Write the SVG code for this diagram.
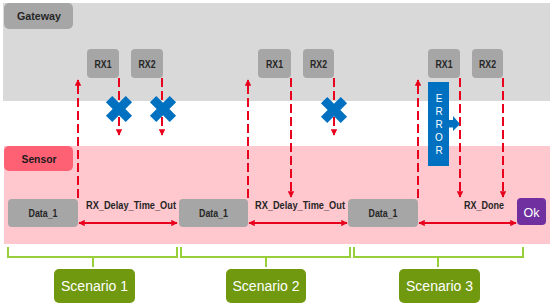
<svg xmlns="http://www.w3.org/2000/svg" width="550" height="307" viewBox="0 0 550 307">
<style>
.lbl{font-family:"Liberation Sans",Arial,sans-serif;font-weight:bold;fill:#262626;text-anchor:middle}
.gbox{fill:#a6a6a6}
.dash{stroke:#e8001c;stroke-width:2;stroke-dasharray:9,4;fill:none}
.solid{stroke:#e8001c;stroke-width:2;fill:none}
.brk{stroke:#96cf3a;stroke-width:2;fill:none}
.scn{fill:#70990f}
.scnt{font-family:"Liberation Sans",Arial,sans-serif;font-size:14px;fill:#ffffff;text-anchor:middle}
.bx{fill:#0070c0}
</style>
<defs>
<marker id="ah" viewBox="0 0 10 10" refX="9" refY="5" markerWidth="3.2" markerHeight="3.2" orient="auto-start-reverse" markerUnits="strokeWidth">
<path d="M0,0 L10,5 L0,10 z" fill="#e8001c"/>
</marker>
<path id="xshape" d="M-4.5,-14 H4.5 V-4.5 H14 V4.5 H4.5 V14 H-4.5 V4.5 H-14 V-4.5 H-4.5 Z" transform="rotate(45)"/>
</defs>

<g id="bands">
<rect x="3" y="3" width="547" height="98" fill="#d9d9d9"/>
<rect x="4" y="146" width="546" height="98" fill="#ffc7ce"/>
</g>

<g id="gateway">
<rect x="4" y="3" width="69" height="26" rx="5" class="gbox"/>
<text x="39" y="20" class="lbl" font-size="11.5" textLength="44" lengthAdjust="spacingAndGlyphs">Gateway</text>
</g>
<g id="sensor">
<rect x="4" y="146" width="69" height="25" rx="5" fill="#ff6174"/>
<text x="39" y="162.5" class="lbl" font-size="11.5" textLength="35" lengthAdjust="spacingAndGlyphs" style="fill:#1a1a1a">Sensor</text>
</g>

<g id="s1-rx1"><rect x="87" y="49" width="32" height="29" rx="4" class="gbox"/><text x="103" y="67.5" class="lbl" font-size="10.5" textLength="17" lengthAdjust="spacingAndGlyphs">RX1</text></g>
<g id="s1-rx2"><rect x="131" y="49" width="32" height="29" rx="4" class="gbox"/><text x="147" y="67.5" class="lbl" font-size="10.5" textLength="17" lengthAdjust="spacingAndGlyphs">RX2</text></g>
<g id="s2-rx1"><rect x="258" y="49" width="33" height="29" rx="4" class="gbox"/><text x="274.5" y="67.5" class="lbl" font-size="10.5" textLength="17" lengthAdjust="spacingAndGlyphs">RX1</text></g>
<g id="s2-rx2"><rect x="303" y="49" width="31" height="29" rx="4" class="gbox"/><text x="318.5" y="67.5" class="lbl" font-size="10.5" textLength="17" lengthAdjust="spacingAndGlyphs">RX2</text></g>
<g id="s3-rx1"><rect x="428" y="49" width="32" height="29" rx="4" class="gbox"/><text x="444" y="67.5" class="lbl" font-size="10.5" textLength="17" lengthAdjust="spacingAndGlyphs">RX1</text></g>
<g id="s3-rx2"><rect x="472" y="49" width="31" height="29" rx="4" class="gbox"/><text x="487.5" y="67.5" class="lbl" font-size="10.5" textLength="17" lengthAdjust="spacingAndGlyphs">RX2</text></g>

<g id="s1-data"><rect x="8" y="199" width="70" height="28" rx="4" class="gbox"/><text x="43" y="217" class="lbl" font-size="10.5" textLength="29" lengthAdjust="spacingAndGlyphs">Data_1</text></g>
<g id="s2-data"><rect x="179" y="199" width="69" height="28" rx="4" class="gbox"/><text x="213.5" y="217" class="lbl" font-size="10.5" textLength="29" lengthAdjust="spacingAndGlyphs">Data_1</text></g>
<g id="s3-data"><rect x="348" y="199" width="70" height="28" rx="4" class="gbox"/><text x="383" y="217" class="lbl" font-size="10.5" textLength="29" lengthAdjust="spacingAndGlyphs">Data_1</text></g>
<g id="ok"><rect x="517" y="198" width="29" height="27" rx="4" fill="#7030a0"/><text x="531.5" y="216.5" font-family="Liberation Sans,Arial,sans-serif" font-size="12.5" fill="#ffffff" text-anchor="middle">Ok</text></g>

<g id="connectors">
<path class="dash" d="M78,198 V80" marker-end="url(#ah)"/>
<path class="dash" d="M248,198 V80" marker-end="url(#ah)"/>
<path class="dash" d="M418,198 V80" marker-end="url(#ah)"/>
<path class="dash" d="M119,78 V135" marker-end="url(#ah)"/>
<path class="dash" d="M162,78 V135" marker-end="url(#ah)"/>
<path class="dash" d="M291,78 V197" marker-end="url(#ah)"/>
<path class="dash" d="M334,78 V135" marker-end="url(#ah)"/>
<path class="dash" d="M460,78 V197" marker-end="url(#ah)"/>
<path class="dash" d="M503,78 V197" marker-end="url(#ah)"/>
<path class="solid" d="M79,223 H177" marker-start="url(#ah)" marker-end="url(#ah)"/>
<path class="solid" d="M249,223 H347" marker-start="url(#ah)" marker-end="url(#ah)"/>
<path class="solid" d="M419,223 H516" marker-start="url(#ah)" marker-end="url(#ah)"/>
</g>

<g id="labels">
<text x="131" y="208.5" class="lbl" font-size="10.5" textLength="90" lengthAdjust="spacingAndGlyphs">RX_Delay_Time_Out</text>
<text x="300" y="208.5" class="lbl" font-size="10.5" textLength="90" lengthAdjust="spacingAndGlyphs">RX_Delay_Time_Out</text>
<text x="484" y="208.5" class="lbl" font-size="10.5" textLength="40" lengthAdjust="spacingAndGlyphs">RX_Done</text>
</g>

<g id="failures">
<use href="#xshape" x="119" y="109" class="bx"/>
<use href="#xshape" x="163" y="109" class="bx"/>
<use href="#xshape" x="334" y="110" class="bx"/>
</g>

<g id="error">
<rect x="428" y="82" width="21" height="84" class="bx"/>
<polygon points="449,120 453,120 453,116 460,124 453,131 453,127.5 449,127.5" class="bx"/>
<g font-family="Liberation Sans,Arial,sans-serif" font-size="10" fill="#ffffff" text-anchor="middle">
<text x="439" y="102">E</text>
<text x="439" y="115">R</text>
<text x="439" y="128">R</text>
<text x="439" y="141">O</text>
<text x="439" y="154">R</text>
</g>
</g>

<g id="brackets">
<path class="brk" d="M8,247 V257 H177 V247 M93,257 V267"/>
<path class="brk" d="M181,247 V257 H350 V247 M266,257 V267"/>
<path class="brk" d="M354,247 V257 H523 V247 M438,257 V267"/>
</g>

<g id="scenario1"><rect x="54" y="269" width="81" height="34" rx="5" class="scn"/><text x="94.5" y="291" class="scnt">Scenario 1</text></g>
<g id="scenario2"><rect x="226" y="269" width="80" height="34" rx="5" class="scn"/><text x="266" y="291" class="scnt">Scenario 2</text></g>
<g id="scenario3"><rect x="399" y="269" width="81" height="34" rx="5" class="scn"/><text x="439.5" y="291" class="scnt">Scenario 3</text></g>
</svg>
